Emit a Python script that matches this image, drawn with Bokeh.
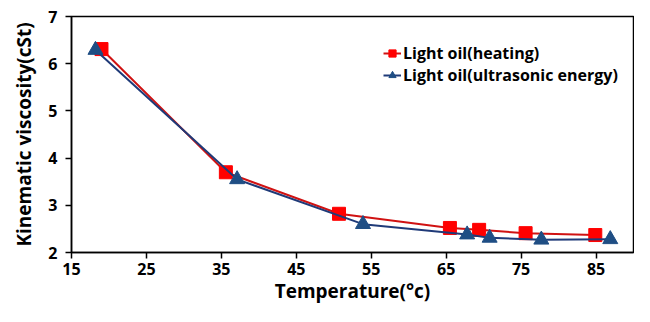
from bokeh.plotting import figure
from bokeh.models import Range1d, FixedTicker, Legend, LegendItem
from bokeh.embed import file_html
from bokeh.resources import INLINE

# Data
heat_temp = [19.0, 35.6, 50.7, 65.5, 69.4, 75.6, 84.9]
heat_visc = [6.31, 3.70, 2.82, 2.52, 2.48, 2.41, 2.37]
ultra_temp = [18.2, 37.1, 53.9, 67.8, 70.8, 77.7, 86.9]
ultra_visc = [6.29, 3.55, 2.60, 2.38, 2.31, 2.27, 2.28]
x_ticks = [15, 25, 35, 45, 55, 65, 75, 85]
y_ticks = [2, 3, 4, 5, 6, 7]
series_names = ["Light oil(heating)", "Light oil(ultrasonic energy)"]

FONT = "Open Sans"

p = figure(width=634, height=306, output_backend="svg", toolbar_location=None,
           x_range=Range1d(15, 90), y_range=Range1d(2, 7),
           min_border_left=71, min_border_top=16, min_border_right=1, min_border_bottom=48)
p.background_fill_color = "white"
p.border_fill_color = "white"
p.outline_line_color = "black"
p.outline_line_width = 1.5
p.xgrid.visible = False
p.ygrid.visible = False

for ax in (p.xaxis[0], p.yaxis[0]):
    ax.major_label_text_font = FONT
    ax.major_label_text_font_style = "bold"
    ax.major_label_text_font_size = "16px"
    ax.major_label_text_color = "black"
    ax.axis_label_text_font = FONT
    ax.axis_label_text_font_style = "bold"
    ax.axis_label_text_font_size = "19px"
    ax.axis_label_text_color = "black"
    ax.axis_line_color = "black"
    ax.axis_line_width = 1.5
    ax.major_tick_line_color = "black"
    ax.major_tick_line_width = 1.5
    ax.major_tick_out = 6
    ax.major_tick_in = 0
    ax.minor_tick_line_color = None

p.xaxis[0].ticker = FixedTicker(ticks=x_ticks)
p.yaxis[0].ticker = FixedTicker(ticks=y_ticks)
p.xaxis[0].axis_label = "Temperature(°c)"
p.yaxis[0].axis_label = "Kinematic viscosity(cSt)"
p.xaxis[0].major_label_standoff = 4
p.xaxis[0].axis_label_standoff = 0
p.yaxis[0].major_label_standoff = 8
p.yaxis[0].axis_label_standoff = 8

l1 = p.line(heat_temp, heat_visc, line_color="#D01212", line_width=2)
m1 = p.scatter(heat_temp, heat_visc, marker="square", size=13,
               fill_color="#FF0000", line_color="#FF0000")
l2 = p.line(ultra_temp, ultra_visc, line_color="#1F3A78", line_width=2)
m2 = p.scatter(ultra_temp, ultra_visc, marker="triangle", size=15,
               fill_color="#1F4E84", line_color="#1F4E84")

legend = Legend(items=[LegendItem(label=series_names[0], renderers=[l1, m1]),
                       LegendItem(label=series_names[1], renderers=[l2, m2])],
                location=(312, 166))
legend.border_line_color = None
legend.background_fill_alpha = 0
legend.padding = 0
legend.spacing = 0
legend.margin = 0
legend.glyph_width = 18
legend.glyph_height = 20
legend.label_height = 20
legend.label_standoff = 2
legend.label_text_font = FONT
legend.label_text_font_style = "bold"
legend.label_text_font_size = "16px"
legend.label_text_color = "black"
p.add_layout(legend, "center")

open("out.html", "w").write(file_html(p, INLINE))
